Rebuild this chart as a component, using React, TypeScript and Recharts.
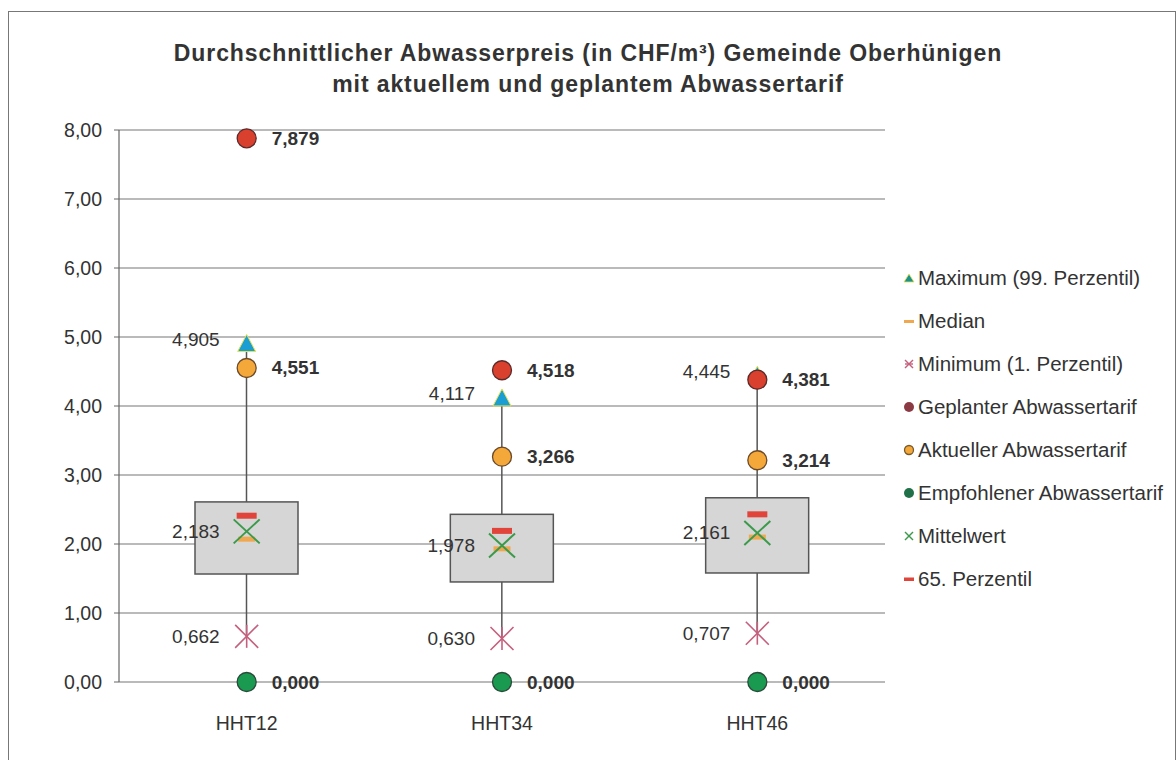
import {
  ComposedChart,
  Bar,
  Scatter,
  XAxis,
  YAxis,
  CartesianGrid,
} from "recharts";

const categories = ["HHT12", "HHT34", "HHT46"];

// box plot statistics
const maximum = [4.905, 4.117, 4.445];
const quartil3 = [2.61, 2.43, 2.67];
const quartil1 = [1.565, 1.45, 1.58];
const minimum = [0.662, 0.63, 0.707];
const median = [2.07, 1.93, 2.1];
const perzentil65 = [2.41, 2.19, 2.43];
const mittelwert = [2.183, 1.978, 2.161];

// tariffs
const geplant = [7.879, 4.518, 4.381];
const aktuell = [4.551, 3.266, 3.214];
const empfohlen = [0, 0, 0];

const yTicks = [0, 1, 2, 3, 4, 5, 6, 7, 8];

const data = categories.map((name, i) => ({
  name,
  base: minimum[i],
  lowWhisker: quartil1[i] - minimum[i],
  box: quartil3[i] - quartil1[i],
  highWhisker: maximum[i] - quartil3[i],
  maximum: maximum[i],
  minimum: minimum[i],
  median: median[i],
  p65: perzentil65[i],
  mittelwert: mittelwert[i],
  geplant: geplant[i],
  aktuell: aktuell[i],
  empfohlen: empfohlen[i],
}));

const FONT = '"Liberation Sans", Arial, sans-serif';
const TXT = "#333";

const fmt = (v: number, d = 3) => v.toFixed(d).replace(".", ",");

const WhiskerShape = (props: any) => {
  const { x, y, width, height } = props;
  const mx = x + width / 2;
  return <line x1={mx} x2={mx} y1={y} y2={y + height} stroke="#555" strokeWidth={1.5} />;
};

const BoxShape = (props: any) => {
  const { x, y, width, height } = props;
  return <rect x={x} y={y} width={width} height={height} fill="#d6d6d6" stroke="#555" strokeWidth={1.5} />;
};

const leftLabel = (cx: number, cy: number, v: number, dy = 0) => (
  <text x={cx - 27} y={cy + dy} textAnchor="end" dominantBaseline="central" fontSize={19} fontFamily={FONT} fill={TXT}>
    {fmt(v)}
  </text>
);

const rightLabel = (cx: number, cy: number, v: number) => (
  <text x={cx + 25} y={cy} textAnchor="start" dominantBaseline="central" fontSize={19} fontWeight="bold" fontFamily={FONT} fill={TXT}>
    {fmt(v)}
  </text>
);

const Circle = (fill: string, stroke: string, key: string) => (props: any) => {
  const { cx, cy, payload } = props;
  return (
    <g>
      <circle cx={cx} cy={cy} r={9.5} fill={fill} stroke={stroke} strokeWidth={1.3} />
      {rightLabel(cx, cy, payload[key])}
    </g>
  );
};

const Triangle = (props: any) => {
  const { cx, cy, payload } = props;
  return (
    <g>
      <polygon
        points={`${cx},${cy - 9} ${cx - 9},${cy + 8} ${cx + 9},${cy + 8}`}
        fill="#1a9ed4"
        stroke="#e8e24a"
        strokeWidth={1}
      />
      {leftLabel(cx, cy, payload.maximum, -4)}
    </g>
  );
};

const MinCross = (props: any) => {
  const { cx, cy, payload } = props;
  const s = 11.5;
  return (
    <g stroke="#c4607e" strokeWidth={1.6}>
      <line x1={cx - s} y1={cy - s} x2={cx + s} y2={cy + s} />
      <line x1={cx - s} y1={cy + s} x2={cx + s} y2={cy - s} />
      <line x1={cx} y1={cy - s} x2={cx} y2={cy + s} />
      <g stroke="none">{leftLabel(cx, cy, payload.minimum)}</g>
    </g>
  );
};

const MeanCross = (props: any) => {
  const { cx, cy, payload } = props;
  const w = 13;
  const h = 12;
  return (
    <g>
      <line x1={cx - w} y1={cy - h} x2={cx + w} y2={cy + h} stroke="#3a9a4a" strokeWidth={2} />
      <line x1={cx - w} y1={cy + h} x2={cx + w} y2={cy - h} stroke="#3a9a4a" strokeWidth={2} />
      {leftLabel(cx, cy, payload.mittelwert)}
    </g>
  );
};

const Dash = (color: string, w: number, h: number) => (props: any) => {
  const { cx, cy } = props;
  return <rect x={cx - w / 2} y={cy - h / 2} width={w} height={h} fill={color} />;
};

const legendItems = [
  { label: "Maximum (99. Perzentil)", icon: "tri" },
  { label: "Median", icon: "median" },
  { label: "Minimum (1. Perzentil)", icon: "min" },
  { label: "Geplanter Abwassertarif", icon: "geplant" },
  { label: "Aktueller Abwassertarif", icon: "aktuell" },
  { label: "Empfohlener Abwassertarif", icon: "empfohlen" },
  { label: "Mittelwert", icon: "mean" },
  { label: "65. Perzentil", icon: "p65" },
];

const LegendIcon = ({ kind }: { kind: string }) => {
  let el: any = null;
  if (kind === "tri") el = <polygon points="6,2 1,10 11,10" fill="#1a9090" stroke="#e8e24a" strokeWidth={0.8} />;
  if (kind === "median") el = <rect x={1} y={5} width={10} height={3} fill="#f0a850" />;
  if (kind === "min")
    el = (
      <g stroke="#c4607e" strokeWidth={1.4}>
        <line x1={2} y1={2} x2={10} y2={10} />
        <line x1={2} y1={10} x2={10} y2={2} />
        <line x1={2} y1={6} x2={10} y2={6} />
      </g>
    );
  if (kind === "geplant") el = <circle cx={6} cy={6} r={5} fill="#8b3a44" />;
  if (kind === "aktuell") el = <circle cx={6} cy={6} r={4.5} fill="#f5a83a" stroke="#7a5a2a" strokeWidth={1.3} />;
  if (kind === "empfohlen") el = <circle cx={6} cy={6} r={5} fill="#20704a" />;
  if (kind === "mean")
    el = (
      <g stroke="#3a9a4a" strokeWidth={1.4}>
        <line x1={2} y1={2} x2={10} y2={10} />
        <line x1={2} y1={10} x2={10} y2={2} />
      </g>
    );
  if (kind === "p65") el = <rect x={1} y={4.5} width={10} height={3.5} fill="#e0443a" />;
  return (
    <svg width={12} height={12} style={{ marginRight: 3 }}>
      {el}
    </svg>
  );
};

export default function App() {
  return (
    <div style={{ position: "absolute", left: 0, top: 0, width: 1176, height: 760, background: "#fff", fontFamily: FONT }}>
      {/* frame */}
      <div style={{ position: "absolute", left: 8, top: 11, width: 1166, height: 760, borderLeft: "1.5px solid #777", borderTop: "1.5px solid #777", borderRight: "1.5px solid #777" }} />
      <div
        style={{
          position: "absolute",
          left: 0,
          top: 38,
          width: 1176,
          textAlign: "center",
          fontSize: 23,
          letterSpacing: 0.9,
          fontWeight: "bold",
          color: TXT,
          lineHeight: "31px",
        }}
      >
        <div style={{ marginLeft: 0 }}>Durchschnittlicher Abwasserpreis (in CHF/m³) Gemeinde Oberhünigen</div>
        <div>mit aktuellem und geplantem Abwassertarif</div>
      </div>
      <div style={{ position: "absolute", left: 0, top: 0 }}>
        <ComposedChart width={1176} height={760} data={data} margin={{ top: 130, right: 291, bottom: 0, left: 0 }}>
          <CartesianGrid vertical={false} stroke="#777" strokeWidth={1.2} />
          <XAxis
            dataKey="name"
            axisLine={false}
            tickLine={false}
            height={78}
            tick={{ fontSize: 19.5, fill: TXT, fontFamily: FONT }}
            dy={26}
          />
          <YAxis
            domain={[0, 8]}
            ticks={yTicks}
            width={119}
            axisLine={{ stroke: "#666", strokeWidth: 1.2 }}
            tickLine={{ stroke: "#666" }}
            tickSize={5}
            tickMargin={12}
            tickFormatter={(v: number) => fmt(v, 2)}
            tick={{ fontSize: 19.5, fill: TXT, fontFamily: FONT }}
          />
          <Bar dataKey="base" stackId="b" barSize={103} fill="none" isAnimationActive={false} />
          <Bar dataKey="lowWhisker" stackId="b" barSize={103} shape={WhiskerShape} isAnimationActive={false} />
          <Bar dataKey="box" stackId="b" barSize={103} shape={BoxShape} isAnimationActive={false} />
          <Bar dataKey="highWhisker" stackId="b" barSize={103} shape={WhiskerShape} isAnimationActive={false} />
          <Scatter dataKey="median" shape={Dash("#f0a850", 17, 5)} isAnimationActive={false} />
          <Scatter dataKey="p65" shape={Dash("#e0443a", 20, 6)} isAnimationActive={false} />
          <Scatter dataKey="mittelwert" shape={MeanCross} isAnimationActive={false} />
          <Scatter dataKey="minimum" shape={MinCross} isAnimationActive={false} />
          <Scatter dataKey="aktuell" shape={Circle("#f5a83a", "#6a4a2a", "aktuell")} isAnimationActive={false} />
          <Scatter dataKey="maximum" shape={Triangle} isAnimationActive={false} />
          <Scatter dataKey="geplant" shape={Circle("#d9402e", "#5a2a2a", "geplant")} isAnimationActive={false} />
          <Scatter dataKey="empfohlen" shape={Circle("#1a9a50", "#2a4a3a", "empfohlen")} isAnimationActive={false} />
        </ComposedChart>
      </div>
      <div style={{ position: "absolute", left: 903, top: 256 }}>
        {legendItems.map((it) => (
          <div key={it.label} style={{ display: "flex", alignItems: "center", height: 43, fontSize: 20.5, color: TXT, whiteSpace: "nowrap" }}>
            <LegendIcon kind={it.icon} />
            <span>{it.label}</span>
          </div>
        ))}
      </div>
    </div>
  );
}
